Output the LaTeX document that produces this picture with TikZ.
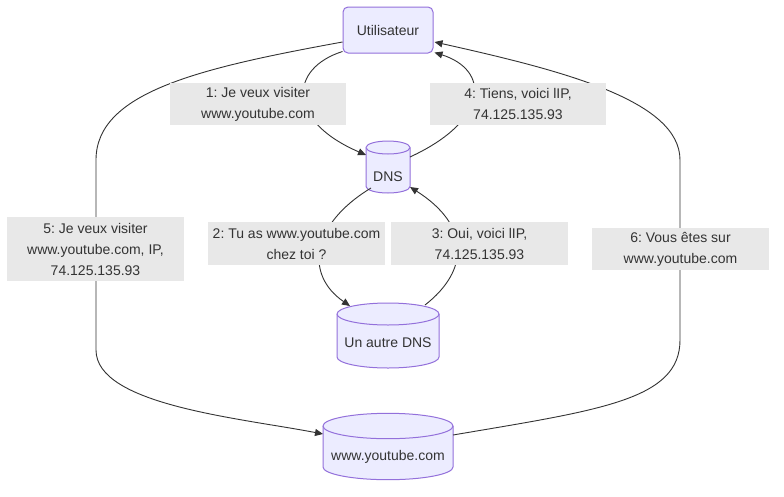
\documentclass[tikz,border=0pt]{standalone}
\usepackage{fontspec}
\setmainfont{Liberation Sans}
\usetikzlibrary{calc,arrows.meta}
\definecolor{nodefill}{HTML}{ECECFF}
\definecolor{nodeline}{HTML}{9370DB}
\definecolor{edgecol}{HTML}{333333}
\definecolor{lblfill}{HTML}{E8E8E8}
\definecolor{txtcol}{HTML}{333333}
\frenchspacing
\newcommand\cylshape[5]{% cx ytop ybot rx ry
  \filldraw[cylstyle] ({#1-#4},#2) -- ({#1-#4},#3) arc[start angle=180,end angle=360,x radius=#4pt,y radius=#5pt] -- ({#1+#4},#2) arc[start angle=0,end angle=180,x radius=#4pt,y radius=#5pt] -- cycle;
  \draw[cylstyle] ({#1-#4},#2) arc[start angle=180,end angle=360,x radius=#4pt,y radius=#5pt];
}
\begin{document}
\begin{tikzpicture}[x=1pt,y=-1pt,
  every node/.style={font=\fontsize{14}{21}\selectfont, text=txtcol, inner sep=0pt},
  cylstyle/.style={fill=nodefill, draw=nodeline, line width=1pt},
  flow/.style={draw=edgecol, line width=0.9pt, -{Triangle[length=8pt,width=7pt]}},
  lbl/.style={fill=lblfill, align=center, minimum width=177pt, minimum height=43pt},
  rbox/.style={draw=nodeline, fill=nodefill, line width=1pt, rounded corners=5pt, minimum width=90pt, minimum height=46pt}]
\useasboundingbox (0,0) rectangle (784,496);
\fill[white] (0,0) rectangle (784,496);

% nodes
\node[rbox] (u) at (388,30) {Utilisateur};
\cylshape{388}{147.5}{186.5}{22}{6.5}
\node (dns) at (388,177) {DNS};
\cylshape{388}{314}{357}{51}{11}
\node (adns) at (388,343) {Un autre DNS};
\cylshape{388}{426}{467}{65}{12.7}
\node (yt) at (388,457) {www.youtube.com};

% edges
\draw[flow] ($(u.south west)+(0,-2)$) .. controls (290,68) and (285,120) .. ($(dns)+(-22,-22)$);
\draw[flow] ($(dns)+(22,-20)$) .. controls (490,120) and (490,70) .. ($(u.south east)+(1,-1)$);
\draw[flow] ($(dns)+(-17,11)$) .. controls (310,225) and (305,275) .. ($(adns)+(-38,-37)$);
\draw[flow] ($(adns)+(37,-38)$) .. controls (470,270) and (470,225) .. ($(dns)+(22,10)$);
\draw[flow] ($(u.west)+(0,12)$) .. controls (200,68) and (96,92) .. (96,160) -- (96,350) .. controls (96,405) and (240,418) .. ($(yt)+(-65,-23)$);
\draw[flow] ($(yt)+(65,-22)$) .. controls (600,410) and (680,400) .. (680,340) -- (680,160) .. controls (680,100) and (560,70) .. ($(u.east)+(1,12)$);

% labels
\node[lbl, minimum width=176pt, minimum height=42pt] (l1) at (258,104) {1: Je veux visiter\\www.youtube.com};
\node[lbl, minimum width=176pt, minimum height=42pt] (l4) at (518,104) {4: Tiens, voici lIP,\\74.125.135.93};
\node[lbl] (l2) at (296.5,243.5) {2: Tu as www.youtube.com\\chez toi ?};
\node[lbl] (l3) at (479.5,243.5) {3: Oui, voici lIP,\\74.125.135.93};
\node[lbl, minimum height=64pt] (l5) at (95.5,249) {5: Je veux visiter\\www.youtube.com, IP,\\74.125.135.93};
\node[lbl, minimum height=42pt] (l6) at (680.5,249) {6: Vous êtes sur\\www.youtube.com};
\end{tikzpicture}
\end{document}
